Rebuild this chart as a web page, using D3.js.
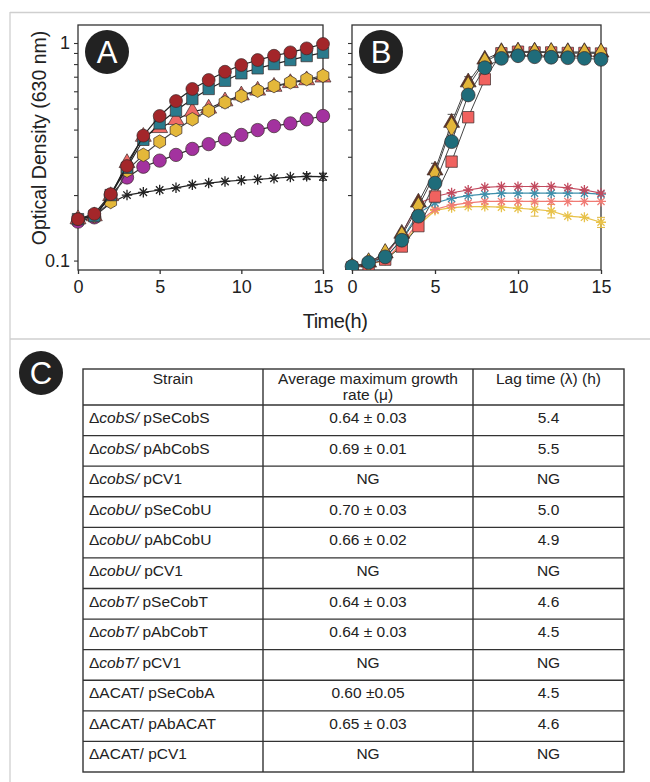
<!DOCTYPE html>
<html>
<head>
<meta charset="utf-8">
<script src="https://cdn.jsdelivr.net/npm/d3@7"></script>
<style>
  body { margin: 0; background: #fff; }
  svg { display: block; font-family: "Liberation Sans", Arial, sans-serif; }
</style>
</head>
<body>
<div id="fig"></div>
<script>
// time points (h)
const hours = [0, 1, 2, 3, 4, 5, 6, 7, 8, 9, 10, 11, 12, 13, 14, 15];

// panel A series (OD630)
const aRedCircle = [0.155, 0.164, 0.202, 0.272, 0.375, 0.462, 0.541, 0.615, 0.676, 0.738, 0.792, 0.835, 0.874, 0.906, 0.945, 0.99];
const aTealSquare = [0.155, 0.160, 0.200, 0.267, 0.359, 0.427, 0.489, 0.553, 0.615, 0.671, 0.726, 0.765, 0.800, 0.835, 0.871, 0.903];
const aSalmonTri = [0.155, 0.160, 0.198, 0.281, 0.371, 0.407, 0.443, 0.484, 0.500, 0.540, 0.575, 0.605, 0.630, 0.655, 0.675, 0.695];
const aYellowHex = [0.155, 0.160, 0.186, 0.259, 0.306, 0.352, 0.398, 0.446, 0.489, 0.534, 0.571, 0.604, 0.634, 0.660, 0.683, 0.707];
const aYellowErr = [0, 0, 0, 0, 0, 0, 0.01, 0.02, 0.02, 0.03, 0.03, 0.03, 0.03, 0.03, 0.03, 0.03];
const aPurpleCircle = [0.151, 0.158, 0.200, 0.241, 0.270, 0.288, 0.306, 0.326, 0.343, 0.361, 0.378, 0.398, 0.415, 0.427, 0.446, 0.462];
const aBlackStar = [0.155, 0.160, 0.184, 0.200, 0.206, 0.211, 0.216, 0.223, 0.227, 0.231, 0.234, 0.236, 0.239, 0.242, 0.244, 0.243];
const aBlackErr = [0, 0, 0, 0, 0, 0, 0, 0, 0, 0, 0, 0, 0, 0, 0.007, 0.009];

// panel B series
const bBrownTri = [0.093, 0.098, 0.108, 0.133, 0.185, 0.260, 0.430, 0.660, 0.840, 0.910, 0.915, 0.915, 0.910, 0.910, 0.910, 0.905];
const bBrownErr = [0, 0, 0, 0, 0, 0.02, 0.04, 0.04, 0, 0, 0, 0, 0, 0, 0, 0];
const bYellowDia = [0.093, 0.098, 0.108, 0.130, 0.177, 0.250, 0.413, 0.634, 0.821, 0.897, 0.906, 0.905, 0.905, 0.900, 0.900, 0.900];
const bTealCircle = [0.094, 0.098, 0.104, 0.124, 0.160, 0.227, 0.352, 0.577, 0.770, 0.850, 0.874, 0.865, 0.860, 0.856, 0.850, 0.841];
const bSalmonSquare = [0.093, 0.096, 0.101, 0.116, 0.144, 0.197, 0.285, 0.456, 0.681, 0.897, 0.912, 0.905, 0.905, 0.900, 0.900, 0.895];
const bRedStar = [0.093, 0.098, 0.105, 0.133, 0.183, 0.197, 0.205, 0.211, 0.217, 0.219, 0.219, 0.219, 0.219, 0.216, 0.211, 0.204];
const bTealStar = [0.093, 0.097, 0.103, 0.125, 0.165, 0.184, 0.193, 0.199, 0.202, 0.204, 0.204, 0.204, 0.204, 0.204, 0.204, 0.202];
const bSalmonStar = [0.092, 0.096, 0.101, 0.120, 0.150, 0.172, 0.180, 0.184, 0.187, 0.187, 0.187, 0.187, 0.187, 0.187, 0.187, 0.187];
const bYellowStar = [0.092, 0.096, 0.100, 0.118, 0.145, 0.170, 0.175, 0.177, 0.177, 0.176, 0.174, 0.172, 0.169, 0.160, 0.158, 0.150];
const bYellowStarErr = [0, 0, 0, 0, 0, 0, 0, 0, 0, 0, 0, 0.012, 0.012, 0, 0, 0.008];

const xTicks = [0, 5, 10, 15];

// table C
const tableHeader = ["Strain", "Average maximum growth|rate (\u03bc)", "Lag time (\u03bb) (h)"];
const strainGene = ["cobS", "cobS", "cobS", "cobU", "cobU", "cobU", "cobT", "cobT", "cobT", "ACAT", "ACAT", "ACAT"];
const strainPlasmid = ["pSeCobS", "pAbCobS", "pCV1", "pSeCobU", "pAbCobU", "pCV1", "pSeCobT", "pAbCobT", "pCV1", "pSeCobA", "pAbACAT", "pCV1"];
const growthRate = ["0.64 \u00b1 0.03", "0.69 \u00b1 0.01", "NG", "0.70 \u00b1 0.03", "0.66 \u00b1 0.02", "NG", "0.64 \u00b1 0.03", "0.64 \u00b1 0.03", "NG", "0.60 \u00b10.05", "0.65 \u00b1 0.03", "NG"];
const lagTime = ["5.4", "5.5", "NG", "5.0", "4.9", "NG", "4.6", "4.5", "NG", "4.5", "4.6", "NG"];

const W = 650, H = 782;
const svg = d3.select("#fig").append("svg").attr("width", W).attr("height", H);

// outer figure frame
const frame = "#cfcfcf";
svg.append("line").attr("x1", 10).attr("x2", W).attr("y1", 12.5).attr("y2", 12.5).attr("stroke", frame).attr("stroke-width", 1.3);
svg.append("line").attr("x1", 10).attr("x2", 10).attr("y1", 12).attr("y2", H).attr("stroke", frame).attr("stroke-width", 1.3);
svg.append("line").attr("x1", 10).attr("x2", W).attr("y1", 339).attr("y2", 339).attr("stroke", frame).attr("stroke-width", 1.3);

const y = d3.scaleLog().domain([0.0905, 1.21]).range([270, 25]);
const minorTicks = [0.1, 0.2, 0.3, 0.4, 0.5, 0.6, 0.7, 0.8, 0.9, 1];
const axisColor = "#333";

// custom symbols
const hexagon = {
  draw(ctx, size) {
    const r = Math.sqrt(size / 2.598);
    for (let i = 0; i < 6; i++) {
      const a = Math.PI / 6 + i * Math.PI / 3;
      if (i === 0) ctx.moveTo(r * Math.cos(a), r * Math.sin(a));
      else ctx.lineTo(r * Math.cos(a), r * Math.sin(a));
    }
    ctx.closePath();
  }
};
const star8 = {
  draw(ctx, size) {
    const r = Math.sqrt(size) / 2;
    const d = r * Math.SQRT1_2;
    ctx.moveTo(-r, 0); ctx.lineTo(r, 0);
    ctx.moveTo(0, -r); ctx.lineTo(0, r);
    ctx.moveTo(-d, -d); ctx.lineTo(d, d);
    ctx.moveTo(-d, d); ctx.lineTo(d, -d);
  }
};

function panel(x0, x1, label, series) {
  const x = d3.scaleLinear().domain([0, 15]).range([x0, x1]);
  const g = svg.append("g");

  g.append("rect").attr("x", x0).attr("y", 25).attr("width", x1 - x0).attr("height", 245)
    .attr("fill", "none").attr("stroke", axisColor).attr("stroke-width", 1.3);

  const xAxis = g.append("g").attr("transform", `translate(0,270)`)
    .call(d3.axisBottom(x).tickValues(xTicks).tickSize(4).tickPadding(6).tickFormat(d3.format("d")));
  xAxis.select(".domain").remove();
  xAxis.selectAll("line").attr("stroke", axisColor).attr("stroke-width", 1.3);
  xAxis.selectAll("text").attr("font-size", 18).attr("fill", "#222")
    .attr("font-family", "Liberation Sans, Arial, sans-serif");

  const yAxis = g.append("g").attr("transform", `translate(${x0},0)`)
    .call(d3.axisLeft(y).tickValues(minorTicks).tickSize(4).tickPadding(4)
      .tickFormat(d => (label === "A" && (d === 1 || d === 0.1)) ? (d === 1 ? "1" : "0.1") : ""));
  yAxis.select(".domain").remove();
  yAxis.selectAll("line").attr("stroke", axisColor).attr("stroke-width", 1.1);
  yAxis.selectAll("text").attr("font-size", 18).attr("fill", "#222")
    .attr("font-family", "Liberation Sans, Arial, sans-serif");

  const clip = "clip" + label;
  g.append("clipPath").attr("id", clip).append("rect")
    .attr("x", x0 - 10).attr("y", 25).attr("width", x1 - x0 + 20).attr("height", 245);
  const plot = g.append("g").attr("clip-path", `url(#${clip})`);

  series.forEach(s => {
    const pts = hours.map((h, i) => ({ h, v: s.values[i], e: s.err ? s.err[i] : 0 }));
    plot.append("path")
      .attr("d", d3.line().x(d => x(d.h)).y(d => y(d.v))(pts))
      .attr("fill", "none").attr("stroke", s.line).attr("stroke-width", s.lw || 1.2);
    // error bars
    pts.filter(d => d.e > 0).forEach(d => {
      const eg = plot.append("g").attr("stroke", s.errColor || "#555").attr("stroke-width", 1);
      eg.append("line").attr("x1", x(d.h)).attr("x2", x(d.h)).attr("y1", y(d.v - d.e)).attr("y2", y(d.v + d.e));
      [d.v - d.e, d.v + d.e].forEach(v => eg.append("line")
        .attr("x1", x(d.h) - 4).attr("x2", x(d.h) + 4).attr("y1", y(v)).attr("y2", y(v)));
    });
    const sym = d3.symbol().type(s.type).size(s.size || 130);
    plot.selectAll(null).data(pts).join("path")
      .attr("transform", d => `translate(${x(d.h)},${y(d.v)})`)
      .attr("d", sym)
      .attr("fill", s.stroked ? "none" : s.color)
      .attr("stroke", s.stroked ? s.color : "#3a2a2a")
      .attr("stroke-width", s.stroked ? 1.3 : 0.7);
  });

  // panel badge
  g.append("circle").attr("cx", x0 + 29).attr("cy", 52).attr("r", 22).attr("fill", "#222");
  g.append("text").attr("x", x0 + 29).attr("y", 63).attr("text-anchor", "middle")
    .attr("font-size", 31).attr("fill", "#fff").text(label);
}

panel(78, 323, "A", [
  { values: aBlackStar, err: aBlackErr, type: star8, color: "#222", line: "#222", stroked: true, size: 110, errColor: "#222" },
  { values: aPurpleCircle, type: d3.symbolCircle, color: "#a3329f", line: "#333", size: 140 },
  { values: aSalmonTri, type: d3.symbolTriangle, color: "#ee6b66", line: "#222", size: 110 },
  { values: aYellowHex, err: aYellowErr, type: hexagon, color: "#e4b83a", line: "#444", size: 120, errColor: "#666" },
  { values: aTealSquare, type: d3.symbolSquare, color: "#2a7a8c", line: "#222", size: 130 },
  { values: aRedCircle, type: d3.symbolCircle, color: "#a3262a", line: "#222", size: 130 }
]);

panel(352, 601, "B", [
  { values: bYellowStar, err: bYellowStarErr, type: star8, color: "#e8c24a", line: "#e8c24a", stroked: true, size: 100, errColor: "#e0b840" },
  { values: bSalmonStar, type: star8, color: "#f07b74", line: "#f07b74", stroked: true, size: 100 },
  { values: bTealStar, type: star8, color: "#3f8fab", line: "#3f8fab", stroked: true, size: 100 },
  { values: bRedStar, type: star8, color: "#c24a5e", line: "#c24a5e", stroked: true, size: 100 },
  { values: bSalmonSquare, type: d3.symbolSquare, color: "#f0625f", line: "#444", size: 130, lw: 1 },
  { values: bBrownTri, err: bBrownErr, type: d3.symbolTriangle, color: "#6b3520", line: "#444", size: 110, lw: 1 },
  { values: bYellowDia, type: d3.symbolDiamond, color: "#e3b63a", line: "#444", size: 110, lw: 1 },
  { values: bTealCircle, type: d3.symbolCircle, color: "#1f6c7a", line: "#444", size: 150, lw: 1 }
]);

// axis titles
svg.append("text").attr("transform", "translate(46,138) rotate(-90)")
  .attr("text-anchor", "middle").attr("font-size", 19.5).attr("fill", "#222")
  .text("Optical Density (630 nm)");
svg.append("text").attr("x", 335).attr("y", 328).attr("text-anchor", "middle")
  .attr("font-size", 20).attr("fill", "#222").attr("letter-spacing", -0.5).text("Time(h)");

// panel C badge
svg.append("circle").attr("cx", 41).attr("cy", 373).attr("r", 22).attr("fill", "#222");
svg.append("text").attr("x", 41).attr("y", 384).attr("text-anchor", "middle")
  .attr("font-size", 31).attr("fill", "#fff").text("C");

// table
const colEdges = [83, 263, 473, 624];
const tableTop = 369, headerBottom = 405, tableBottom = 772;
const row = d3.scaleBand().domain(d3.range(strainGene.length)).range([headerBottom, tableBottom]);
const tg = svg.append("g").attr("font-size", 15.5).attr("fill", "#222");
const border = "#333";

tg.append("rect").attr("x", colEdges[0]).attr("y", tableTop)
  .attr("width", colEdges[3] - colEdges[0]).attr("height", tableBottom - tableTop)
  .attr("fill", "none").attr("stroke", border).attr("stroke-width", 1.4);
[colEdges[1], colEdges[2]].forEach(cx => tg.append("line")
  .attr("x1", cx).attr("x2", cx).attr("y1", tableTop).attr("y2", tableBottom)
  .attr("stroke", border).attr("stroke-width", 1.4));
row.domain().forEach(i => tg.append("line")
  .attr("x1", colEdges[0]).attr("x2", colEdges[3]).attr("y1", row(i)).attr("y2", row(i))
  .attr("stroke", border).attr("stroke-width", 1.4));

tableHeader.forEach((h, c) => {
  const cx = (colEdges[c] + colEdges[c + 1]) / 2;
  h.split("|").forEach((ln, k) => tg.append("text").attr("x", cx).attr("y", tableTop + 15 + k * 16)
    .attr("text-anchor", "middle").text(ln));
});

strainGene.forEach((gene, i) => {
  const ty = row(i) + 18;
  const t = tg.append("text").attr("x", colEdges[0] + 6).attr("y", ty);
  t.append("tspan").text("\u0394");
  t.append("tspan").attr("font-style", gene === "ACAT" ? "normal" : "italic").text(gene + "/");
  t.append("tspan").text(" " + strainPlasmid[i]);
  tg.append("text").attr("x", (colEdges[1] + colEdges[2]) / 2).attr("y", ty)
    .attr("text-anchor", "middle").text(growthRate[i]);
  tg.append("text").attr("x", (colEdges[2] + colEdges[3]) / 2).attr("y", ty)
    .attr("text-anchor", "middle").text(lagTime[i]);
});
</script>
</body>
</html>
